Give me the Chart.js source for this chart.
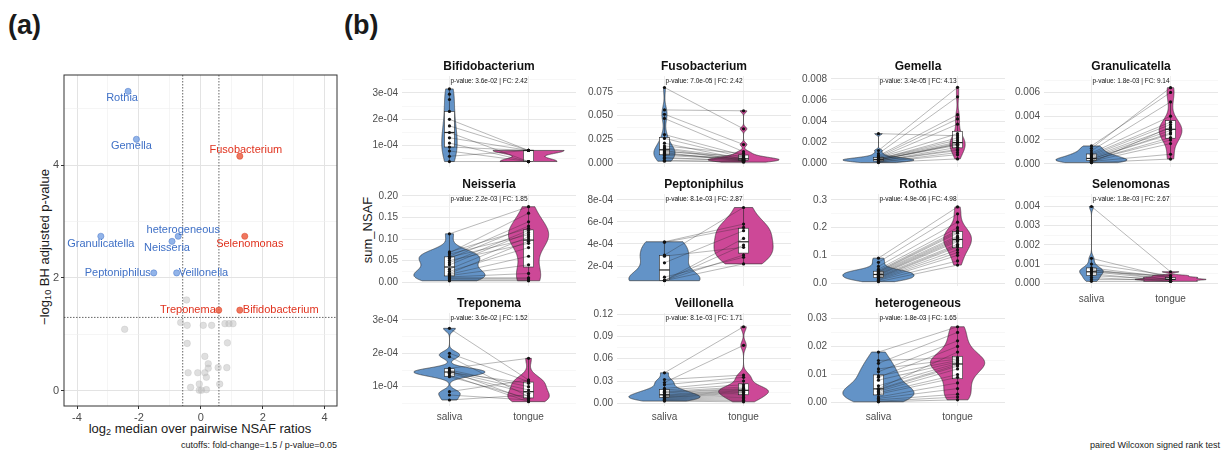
<!DOCTYPE html>
<html>
<head>
<meta charset="utf-8">
<script src="https://cdn.jsdelivr.net/npm/chart.js@4.4.0/dist/chart.umd.min.js"></script>
<style>
  body { margin: 0; background: #fff; width: 1225px; height: 452px; position: relative; overflow: hidden;
         font-family: "Liberation Sans", Arial, sans-serif; }
  canvas { position: absolute; }
  .txt { position: absolute; white-space: nowrap; color: #1a1a1a; }
  .txt sub { font-size: 70%; vertical-align: -0.3em; line-height: 0; }
</style>
</head>
<body>
<div class="txt" style="left:8px;top:10px;font-size:27px;font-weight:bold;">(a)</div>
<div class="txt" style="left:344px;top:10px;font-size:27px;font-weight:bold;">(b)</div>
<div class="txt" style="left:44px;top:247px;font-size:13px;transform:translate(-50%,-50%) rotate(-90deg);">&minus;log<sub>10</sub> BH adjusted p-value</div>
<div class="txt" style="left:200px;top:428px;font-size:13px;transform:translate(-50%,-50%);">log<sub>2</sub> median over pairwise NSAF ratios</div>
<div class="txt" style="right:888px;top:440px;font-size:9px;">cutoffs: fold-change=1.5 / p-value=0.05</div>
<div class="txt" style="left:367px;top:230px;font-size:13px;transform:translate(-50%,-50%) rotate(-90deg);">sum_NSAF</div>
<div class="txt" style="right:5px;top:440px;font-size:9px;">paired Wilcoxon signed rank test</div>

<script>
Chart.defaults.font.family = '"Liberation Sans", Arial, sans-serif';
Chart.defaults.color = '#4d4d4d';

// ---- panel (a) volcano ----
const volcanoNames = ['Rothia', 'Gemella', 'Fusobacterium', 'heterogeneous', 'Neisseria', 'Granulicatella',
                      'Selenomonas', 'Peptoniphilus', 'Veillonella', 'Treponema', 'Bifidobacterium'];
const volcanoX = [-2.35, -2.08, 1.26, -0.73, -0.93, -3.23, 1.42, -1.52, -0.78, 0.58, 1.26];
const volcanoY = [5.31, 4.46, 4.16, 2.74, 2.65, 2.74, 2.74, 2.09, 2.09, 1.43, 1.43];
const greyX = [-0.46, -0.65, -0.44, 0.08, 0.35, 0.78, 0.91, 1.04, -2.46, -0.44, 0.86, 0.13, 0.24, 0.24,
               0.56, 0.84, -0.41, -0.10, 0.13, 0.18, -0.05, 0.61, -0.33, -0.05, 0.02, 0.18];
const greyY = [1.61, 1.21, 1.16, 1.16, 1.16, 1.19, 1.19, 1.19, 1.09, 0.84, 0.85, 0.61, 0.48, 0.40,
               0.41, 0.41, 0.32, 0.32, 0.32, 0.24, 0.12, 0.12, 0.06, 0.01, 0.01, 0.02];
const volcanoXTicks = [-4, -2, 0, 2, 4];
const volcanoYTicks = [0, 2, 4];
const FC_CUT = 1.5, P_CUT = 0.05;

// ---- panel (b) facets ----
const GROUPS = ['saliva', 'tongue'];
const facetNames = ['Bifidobacterium', 'Fusobacterium', 'Gemella', 'Granulicatella', 'Neisseria', 'Peptoniphilus',
                    'Rothia', 'Selenomonas', 'Treponema', 'Veillonella', 'heterogeneous'];
const facetPValues = ['3.6e-02', '7.0e-05', '3.4e-05', '1.8e-03', '2.2e-03', '8.1e-03',
                      '4.9e-06', '1.8e-03', '3.6e-02', '8.1e-03', '1.8e-03'];
const facetFC = ['2.42', '2.42', '4.13', '9.14', '1.85', '2.87', '4.98', '2.67', '1.52', '1.71', '1.65'];

const bifSaliva = [3.15e-4, 2.95e-4, 2.75e-4, 2.3e-4, 2.0e-4, 1.75e-4, 1.5e-4, 1.3e-4, 1.1e-4, 0.95e-4, 0.8e-4, 0.6e-4, 0.4e-4];
const bifTongue = [null, null, null, null, 0.82e-4, 0.82e-4, 0.4e-4, 0.82e-4, 0.4e-4, 0.82e-4, 0.4e-4, 0.82e-4, 0.4e-4];
const fusSaliva = [0.0795, 0.0559, 0.0514, 0.047, 0.030, 0.026, 0.021, 0.018, 0.016, 0.015, 0.013, 0.012, 0.011, 0.010, 0.009, 0.008, 0.006, 0.005, 0.003, 0.002];
const fusTongue = [0.036, 0.055, 0.0195, 0.012, 0.008, 0.006, 0.004, 0.010, 0.005, 0.003, 0.004, 0.007, 0.002, 0.003, 0.005, 0.004, 0.002, 0.003, 0.001, 0.002];
const gemSaliva = [0.0028, 0.0012, 0.0009, 0.0007, 0.0006, 0.0005, 0.0005, 0.0004, 0.0004, 0.0004, 0.0003, 0.0003, 0.0003, 0.0003, 0.0002, 0.0002, 0.0002, 0.0001, 0.0001, 0.00005];
const gemTongue = [0.0026, 0.0072, 0.0063, 0.0046, 0.0042, 0.0037, 0.0028, 0.0024, 0.0022, 0.0020, 0.0019, 0.0018, 0.0018, 0.0017, 0.0015, 0.0013, 0.0012, 0.0010, 0.0008, 0.0004];
const graSaliva = [0.0015, 0.0013, 0.0011, 0.0009, 0.0008, 0.0007, 0.0006, 0.0005, 0.0004, 0.0004, 0.0003, 0.0003, 0.0002, 0.0002, 0.0001, 0.0001];
const graTongue = [0.0060, 0.0064, 0.0052, 0.0040, 0.0035, 0.0033, 0.0030, 0.0028, 0.0026, 0.0025, 0.0022, 0.0020, 0.0017, 0.0008, 0.0004, 0.0031];
const neiSaliva = [0.112, 0.070, 0.068, 0.065, 0.060, 0.058, 0.055, 0.050, 0.045, 0.040, 0.030, 0.025, 0.020, 0.018, 0.015, 0.012, 0.010, 0.008, 0.005, 0.003];
const neiTongue = [0.175, 0.125, 0.160, 0.110, 0.140, 0.100, 0.130, 0.090, 0.120, 0.115, 0.105, 0.080, 0.095, 0.060, 0.040, 0.020, 0.010, 0.008, 0.005, 0.003];
const pepSaliva = [4.2e-4, 4.15e-4, 3.0e-4, 2.9e-4, 2.3e-4, 1.0e-4, 0.7e-4, 0.7e-4, 0.68e-4, 0.7e-4];
const pepTongue = [5.8e-4, 5.5e-4, 7.3e-4, 3.7e-4, 5.2e-4, 2.8e-4, 4.5e-4, 3.0e-4, 2.2e-4, 3.9e-4];
const rotSaliva = [0.090, 0.075, 0.060, 0.050, 0.045, 0.042, 0.040, 0.038, 0.035, 0.032, 0.030, 0.028, 0.025, 0.022, 0.020, 0.018, 0.015, 0.012, 0.010, 0.005];
const rotTongue = [0.275, 0.250, 0.220, 0.200, 0.190, 0.185, 0.180, 0.170, 0.165, 0.160, 0.155, 0.150, 0.140, 0.135, 0.130, 0.120, 0.110, 0.100, 0.080, 0.065];
const selSaliva = [0.0040, 0.0013, 0.0010, 0.0008, 0.0007, 0.0007, 0.0006, 0.0006, 0.0005, 0.0004, 0.0003, 0.0002, 0.0001];
const selTongue = [0.0006, 0.0003, 0.0004, 0.0003, 0.0002, 0.0003, 0.0002, 0.0004, 0.0001, 0.0002, 0.0001, 0.0002, 0.0001];
const treSaliva = [2.75e-4, 2.0e-4, 1.9e-4, 1.55e-4, 1.5e-4, 1.47e-4, 1.45e-4, 1.43e-4, 1.4e-4, 1.35e-4, 1.3e-4, 0.85e-4, 0.75e-4, 0.6e-4];
const treTongue = [1.2e-4, 1.15e-4, 0.7e-4, 1.85e-4, 1.0e-4, 0.6e-4, 0.9e-4, 1.1e-4, 0.8e-4, 0.55e-4, 0.65e-4, 1.2e-4, 0.6e-4, 0.75e-4];
const veiSaliva = [0.041, 0.032, 0.028, 0.025, 0.020, 0.018, 0.016, 0.015, 0.014, 0.012, 0.011, 0.010, 0.009, 0.008, 0.008, 0.007, 0.006, 0.005, 0.004, 0.003];
const veiTongue = [0.103, 0.038, 0.078, 0.035, 0.030, 0.025, 0.022, 0.020, 0.019, 0.018, 0.017, 0.016, 0.015, 0.014, 0.012, 0.010, 0.008, 0.006, 0.004, 0.002];
const hetSaliva = [0.018, 0.015, 0.014, 0.012, 0.011, 0.0095, 0.009, 0.008, 0.006, 0.005, 0.0048, 0.0045, 0.004, 0.0035, 0.003, 0.002, 0.0015, 0.001, 0.0005, 0.0003];
const hetTongue = [0.027, 0.016, 0.025, 0.0155, 0.022, 0.015, 0.020, 0.0145, 0.014, 0.018, 0.0135, 0.013, 0.012, 0.010, 0.009, 0.007, 0.005, 0.003, 0.002, 0.001];

const bifTicks = [1e-4, 2e-4, 3e-4],               bifTickLabels = ['1e-04', '2e-04', '3e-04'];
const fusTicks = [0, 0.025, 0.05, 0.075],          fusTickLabels = ['0.000', '0.025', '0.050', '0.075'];
const gemTicks = [0, 0.002, 0.004, 0.006, 0.008],  gemTickLabels = ['0.000', '0.002', '0.004', '0.006', '0.008'];
const graTicks = [0, 0.002, 0.004, 0.006],         graTickLabels = ['0.000', '0.002', '0.004', '0.006'];
const neiTicks = [0, 0.05, 0.1, 0.15, 0.2],        neiTickLabels = ['0.00', '0.05', '0.10', '0.15', '0.20'];
const pepTicks = [2e-4, 4e-4, 6e-4, 8e-4],         pepTickLabels = ['2e-04', '4e-04', '6e-04', '8e-04'];
const rotTicks = [0, 0.1, 0.2, 0.3],               rotTickLabels = ['0.0', '0.1', '0.2', '0.3'];
const selTicks = [0, 0.001, 0.002, 0.003, 0.004],  selTickLabels = ['0.000', '0.001', '0.002', '0.003', '0.004'];
const treTicks = [1e-4, 2e-4, 3e-4],               treTickLabels = ['1e-04', '2e-04', '3e-04'];
const veiTicks = [0, 0.03, 0.06, 0.09, 0.12],      veiTickLabels = ['0.00', '0.03', '0.06', '0.09', '0.12'];
const hetTicks = [0, 0.01, 0.02, 0.03],            hetTickLabels = ['0.00', '0.01', '0.02', '0.03'];

// layout of the facet grid (pixels) and per-facet axis limits
const COL_LEFT = [401.5, 617, 830.5, 1044];
const COL_W = 178;
const ROW_TOP = [76, 194, 313];
const ROW_BOTTOM = [169, 288, 406];
const AXIS_W = 50;
const facets = [
  { s: bifSaliva, t: bifTongue, ticks: bifTicks, labels: bifTickLabels, min: 0.193e-4, max: 3.64e-4, row: 0, col: 0 },
  { s: fusSaliva, t: fusTongue, ticks: fusTicks, labels: fusTickLabels, min: -0.0041, max: 0.0916, row: 0, col: 1 },
  { s: gemSaliva, t: gemTongue, ticks: gemTicks, labels: gemTickLabels, min: -0.00037, max: 0.00828, row: 0, col: 2 },
  { s: graSaliva, t: graTongue, ticks: graTicks, labels: graTickLabels, min: -0.00027, max: 0.00738, row: 0, col: 3 },
  { s: neiSaliva, t: neiTongue, ticks: neiTicks, labels: neiTickLabels, min: -0.0091, max: 0.2045, row: 1, col: 0 },
  { s: pepSaliva, t: pepTongue, ticks: pepTicks, labels: pepTickLabels, min: 0.2e-4, max: 8.52e-4, row: 1, col: 1 },
  { s: rotSaliva, t: rotTongue, ticks: rotTicks, labels: rotTickLabels, min: -0.0106, max: 0.3216, row: 1, col: 2 },
  { s: selSaliva, t: selTongue, ticks: selTicks, labels: selTickLabels, min: -0.000245, max: 0.00465, row: 1, col: 3, xlab: true },
  { s: treSaliva, t: treTongue, ticks: treTicks, labels: treTickLabels, min: 0.42e-4, max: 3.21e-4, row: 2, col: 0, xlab: true },
  { s: veiSaliva, t: veiTongue, ticks: veiTicks, labels: veiTickLabels, min: -0.0036, max: 0.1215, row: 2, col: 1, xlab: true },
  { s: hetSaliva, t: hetTongue, ticks: hetTicks, labels: hetTickLabels, min: -0.0012, max: 0.0319, row: 2, col: 2, xlab: true }
];
const GROUP_FILL = ['#6393c7', '#cd4897'];

// ---------- helpers ----------
function withMinor(majors, min, max) {
  const step = majors[1] - majors[0];
  const out = [];
  for (let k = -1; k <= majors.length; k++) {
    const v = majors[0] + k * step;
    if (k >= 0 && k < majors.length && v >= min && v <= max) out.push({ value: v, isMinor: false });
    const m = v + step / 2;
    if (m >= min && m <= max && k < majors.length) out.push({ value: m, isMinor: true });
  }
  return out.sort((a, b) => a.value - b.value);
}

function quant(s, p) {
  const h = (s.length - 1) * p, lo = Math.floor(h);
  return lo + 1 < s.length ? s[lo] + (h - lo) * (s[lo + 1] - s[lo]) : s[lo];
}

function kde(vals) {
  const s = [...vals].sort((a, b) => a - b), n = s.length;
  if (n < 2 || s[0] === s[n - 1]) return null;
  const mean = s.reduce((a, b) => a + b, 0) / n;
  const sd = Math.sqrt(s.reduce((a, b) => a + (b - mean) * (b - mean), 0) / (n - 1));
  const iqr = quant(s, 0.75) - quant(s, 0.25);
  let lo = Math.min(sd, iqr / 1.34);
  if (!(lo > 0)) lo = sd;
  const bw = 0.9 * lo * Math.pow(n, -0.2);
  const ys = [], ds = [];
  for (let i = 0; i < 512; i++) {
    const y = s[0] + (s[n - 1] - s[0]) * i / 511;
    let d = 0;
    for (const v of s) { const z = (y - v) / bw; d += Math.exp(-0.5 * z * z); }
    ys.push(y); ds.push(d / (n * bw * Math.sqrt(2 * Math.PI)));
  }
  return { ys, ds };
}

function boxStats(vals) {
  const s = [...vals].sort((a, b) => a - b);
  const q1 = quant(s, 0.25), q2 = quant(s, 0.5), q3 = quant(s, 0.75), r = 1.5 * (q3 - q1);
  const inside = s.filter(v => v >= q1 - r && v <= q3 + r);
  return { q1, q2, q3, lo: inside[0], hi: inside[inside.length - 1] };
}

// ---------- panel (a) ----------
const labelPlace = {
  Rothia: ['center', -6, 7], Gemella: ['center', -5, 7], Fusobacterium: ['center', 6, -6],
  heterogeneous: ['center', 5, -6], Neisseria: ['center', -5, 7], Granulicatella: ['center', 0, 8],
  Selenomonas: ['center', 5, 8], Peptoniphilus: ['right', -3, 0], Veillonella: ['left', 2, 0],
  Treponema: ['right', -3, 0], Bifidobacterium: ['left', 3, 0]
};

const volcanoPlugin = {
  id: 'volcano',
  beforeDatasetsDraw(chart) {
    const { ctx, chartArea: a, scales: { x, y } } = chart;
    ctx.save();
    ctx.setLineDash([1.5, 1.5]);
    ctx.strokeStyle = '#555';
    ctx.lineWidth = 0.9;
    const lfc = Math.log2(FC_CUT);
    [-lfc, lfc].forEach(v => {
      const px = x.getPixelForValue(v);
      ctx.beginPath(); ctx.moveTo(px, a.top); ctx.lineTo(px, a.bottom); ctx.stroke();
    });
    const py = y.getPixelForValue(-Math.log10(P_CUT));
    ctx.beginPath(); ctx.moveTo(a.left, py); ctx.lineTo(a.right, py); ctx.stroke();
    ctx.restore();
  },
  afterDraw(chart) {
    const { ctx, chartArea: a, scales: { x, y } } = chart;
    ctx.save();
    ctx.strokeStyle = '#333'; ctx.lineWidth = 1;
    ctx.strokeRect(a.left, a.top, a.right - a.left, a.bottom - a.top);
    ctx.font = '11px "Liberation Sans", Arial, sans-serif';
    ctx.textBaseline = 'middle';
    volcanoNames.forEach((name, i) => {
      const [align, dx, dy] = labelPlace[name];
      ctx.textAlign = align;
      ctx.fillStyle = volcanoX[i] < 0 ? '#3f70c6' : '#e0321e';
      ctx.fillText(name, x.getPixelForValue(volcanoX[i]) + dx, y.getPixelForValue(volcanoY[i]) + dy);
    });
    ctx.restore();
  }
};

(function volcano() {
  const cv = document.createElement('canvas');
  cv.width = 345; cv.height = 380;
  cv.style.left = '0px'; cv.style.top = '60px';
  document.body.appendChild(cv);
  const xMin = -4.42, xMax = 4.4, yMin = -0.27, yMax = 5.6;
  const gridStyle = {
    color: c => (c.tick && c.tick.isMinor ? '#efefef' : '#e3e3e3'),
    lineWidth: c => (c.tick && c.tick.isMinor ? 0.6 : 1),
    tickColor: c => (c.tick && c.tick.isMinor ? 'rgba(0,0,0,0)' : '#333'),
    tickLength: 3, drawTicks: true
  };
  new Chart(cv, {
    type: 'scatter',
    data: {
      datasets: [
        { data: greyX.map((v, i) => ({ x: v, y: greyY[i] })), backgroundColor: 'rgba(185,185,185,0.45)',
          borderColor: 'rgba(185,185,185,0.6)', borderWidth: 0.5, pointRadius: 3.3 },
        { data: volcanoX.map((v, i) => ({ x: v, y: volcanoY[i] })),
          backgroundColor: volcanoX.map(v => (v < 0 ? 'rgba(110,155,225,0.75)' : 'rgba(235,85,55,0.8)')),
          borderColor: volcanoX.map(v => (v < 0 ? 'rgba(70,115,200,0.8)' : 'rgba(220,60,30,0.8)')),
          borderWidth: 0.6, pointRadius: 3.1 }
      ]
    },
    options: {
      responsive: false, animation: false,
      layout: { padding: { top: 15, right: 8, left: 0, bottom: 0 } },
      plugins: { legend: { display: false }, tooltip: { enabled: false } },
      scales: {
        x: {
          type: 'linear', min: xMin, max: xMax, bounds: 'data',
          afterBuildTicks: s => { s.ticks = withMinor(volcanoXTicks, xMin, xMax); },
          afterFit: s => { s.height = 34; },
          grid: gridStyle, border: { display: false },
          ticks: { autoSkip: false, maxRotation: 0, padding: 2, font: { size: 11 }, color: '#4d4d4d',
                   callback: (v, i, t) => (t[i].isMinor ? '' : String(v)) }
        },
        y: {
          type: 'linear', min: yMin, max: yMax, bounds: 'data',
          afterBuildTicks: s => { s.ticks = withMinor(volcanoYTicks, yMin, yMax); },
          afterFit: s => { s.width = 64; },
          grid: gridStyle, border: { display: false },
          ticks: { autoSkip: false, padding: 2, font: { size: 11 }, color: '#4d4d4d',
                   callback: (v, i, t) => (t[i].isMinor ? '' : String(v)) }
        }
      }
    },
    plugins: [volcanoPlugin]
  });
})();

// ---------- panel (b) ----------
function facetPlugin(idx) {
  const f = facets[idx];
  return {
    id: 'facet' + idx,
    beforeDatasetsDraw(chart) {
      const { ctx, chartArea: a, scales: { x, y } } = chart;
      ctx.save();
      ctx.beginPath(); ctx.rect(a.left, a.top, a.right - a.left, a.bottom - a.top); ctx.clip();
      const groups = [f.s.filter(v => v !== null), f.t.filter(v => v !== null)];
      const dens = groups.map(kde);
      const maxD = Math.max(...dens.map(d => (d ? Math.max(...d.ds) : 0)));
      // violins
      dens.forEach((d, g) => {
        if (!d) return;
        const cx = g + 1;
        ctx.beginPath();
        d.ys.forEach((v, i) => {
          const px = x.getPixelForValue(cx - 0.45 * d.ds[i] / maxD), py = y.getPixelForValue(v);
          i ? ctx.lineTo(px, py) : ctx.moveTo(px, py);
        });
        for (let i = d.ys.length - 1; i >= 0; i--) {
          ctx.lineTo(x.getPixelForValue(cx + 0.45 * d.ds[i] / maxD), y.getPixelForValue(d.ys[i]));
        }
        ctx.closePath();
        ctx.fillStyle = GROUP_FILL[g]; ctx.fill();
        ctx.strokeStyle = '#2a2a2a'; ctx.lineWidth = 0.6; ctx.stroke();
      });
      // boxplots
      groups.forEach((g, k) => {
        const b = boxStats(g), cx = k + 1;
        const l = x.getPixelForValue(cx - 0.065), r = x.getPixelForValue(cx + 0.065), m = x.getPixelForValue(cx);
        ctx.strokeStyle = '#222'; ctx.lineWidth = 0.6;
        ctx.beginPath();
        ctx.moveTo(m, y.getPixelForValue(b.q3)); ctx.lineTo(m, y.getPixelForValue(b.hi));
        ctx.moveTo(m, y.getPixelForValue(b.q1)); ctx.lineTo(m, y.getPixelForValue(b.lo));
        ctx.stroke();
        const top = y.getPixelForValue(b.q3), bot = y.getPixelForValue(b.q1);
        ctx.fillStyle = '#fff';
        ctx.fillRect(l, top, r - l, bot - top);
        ctx.strokeRect(l, top, r - l, bot - top);
        ctx.lineWidth = 1.2;
        ctx.beginPath(); ctx.moveTo(l, y.getPixelForValue(b.q2)); ctx.lineTo(r, y.getPixelForValue(b.q2)); ctx.stroke();
      });
      // paired lines
      ctx.strokeStyle = 'rgba(40,40,40,0.55)'; ctx.lineWidth = 0.6;
      f.s.forEach((v, i) => {
        const w = f.t[i];
        if (v === null || w === null) return;
        ctx.beginPath();
        ctx.moveTo(x.getPixelForValue(1), y.getPixelForValue(v));
        ctx.lineTo(x.getPixelForValue(2), y.getPixelForValue(w));
        ctx.stroke();
      });
      ctx.restore();
    },
    afterDraw(chart) {
      const { ctx, chartArea: a } = chart;
      const cx = (a.left + a.right) / 2;
      ctx.save();
      ctx.textAlign = 'center'; ctx.textBaseline = 'middle'; ctx.fillStyle = '#111';
      ctx.font = 'bold 12px "Liberation Sans", Arial, sans-serif';
      ctx.fillText(facetNames[idx], cx, a.top - 9);
      ctx.font = '6.5px "Liberation Sans", Arial, sans-serif';
      ctx.fillText('p-value: ' + facetPValues[idx] + ' | FC: ' + facetFC[idx], cx, a.top + 5);
      ctx.restore();
    }
  };
}

facets.forEach((f, idx) => {
  const top = ROW_TOP[f.row], bottom = ROW_BOTTOM[f.row];
  const padTop = 26, xh = f.xlab ? 22 : 0, padBottom = f.xlab ? 0 : 8;
  const cv = document.createElement('canvas');
  cv.width = COL_W + AXIS_W;
  cv.height = Math.round(bottom - top) + padTop + xh + padBottom;
  cv.style.left = (COL_LEFT[f.col] - AXIS_W) + 'px';
  cv.style.top = (top - padTop) + 'px';
  document.body.appendChild(cv);
  const pts = [];
  f.s.forEach(v => { if (v !== null) pts.push({ x: 1, y: v }); });
  f.t.forEach(v => { if (v !== null) pts.push({ x: 2, y: v }); });
  new Chart(cv, {
    type: 'scatter',
    data: { datasets: [{ data: pts, backgroundColor: '#111', borderWidth: 0, pointRadius: 1.6 }] },
    options: {
      responsive: false, animation: false,
      layout: { padding: { top: padTop, bottom: padBottom, left: 0, right: 0 } },
      plugins: { legend: { display: false }, tooltip: { enabled: false } },
      scales: {
        x: {
          type: 'linear', min: 0.4, max: 2.6, bounds: 'data',
          afterBuildTicks: s => { s.ticks = [{ value: 1 }, { value: 2 }]; },
          afterFit: s => { s.height = xh; },
          grid: { color: '#e8e8e8', lineWidth: 0.8, drawTicks: false }, border: { display: false },
          ticks: { display: !!f.xlab, autoSkip: false, maxRotation: 0, padding: 5, font: { size: 10 }, color: '#4d4d4d',
                   callback: v => GROUPS[Math.round(v) - 1] }
        },
        y: {
          type: 'linear', min: f.min, max: f.max, bounds: 'data',
          afterBuildTicks: s => { s.ticks = withMinor(f.ticks, f.min, f.max); },
          afterFit: s => { s.width = AXIS_W; },
          grid: { color: c => (c.tick && c.tick.isMinor ? '#f1f1f1' : '#e4e4e4'),
                  lineWidth: c => (c.tick && c.tick.isMinor ? 0.6 : 0.9), drawTicks: false },
          border: { display: false },
          ticks: { autoSkip: false, padding: 4, font: { size: 10 }, color: '#4d4d4d',
                   callback: (v, i, t) => {
                     if (t[i].isMinor) return '';
                     const j = f.ticks.findIndex(m => Math.abs(m - v) < 1e-12);
                     return j >= 0 ? f.labels[j] : '';
                   } }
        }
      }
    },
    plugins: [facetPlugin(idx)]
  });
});
</script>
</body>
</html>
